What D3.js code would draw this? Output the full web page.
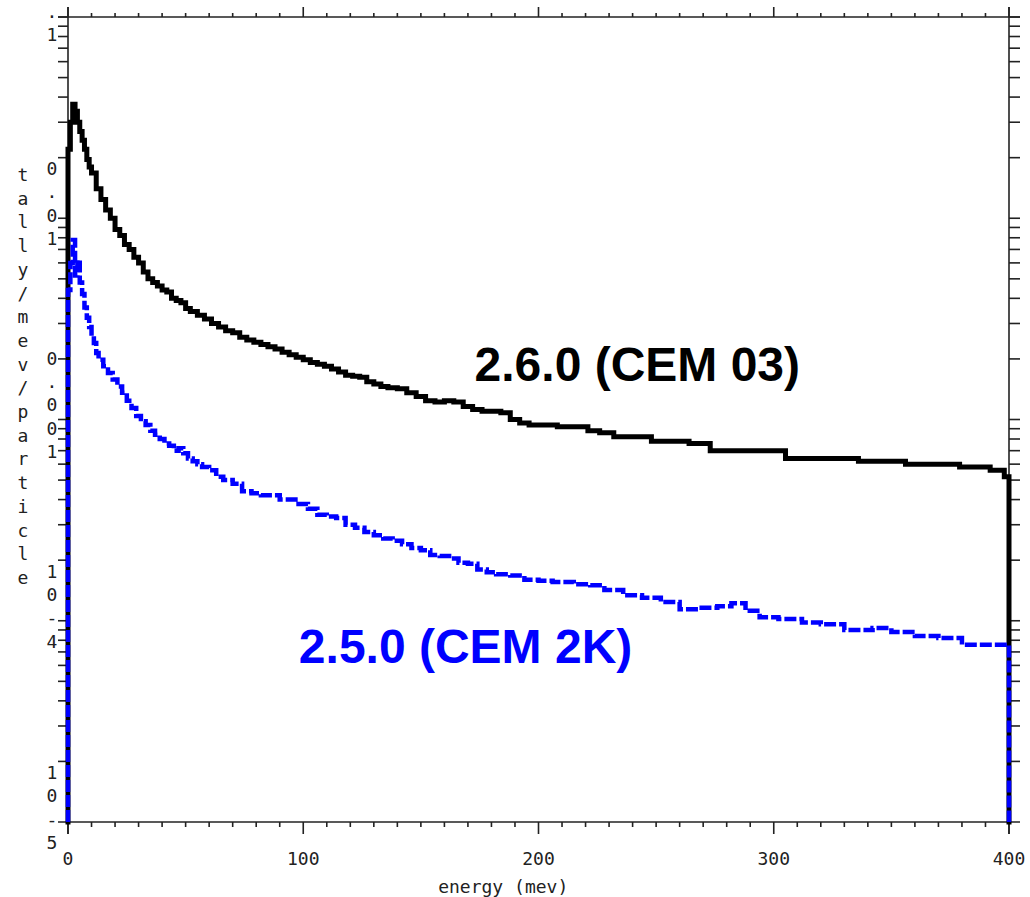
<!DOCTYPE html>
<html>
<head>
<meta charset="utf-8">
<script src="https://d3js.org/d3.v7.min.js"></script>
<style>
  body { margin: 0; background: #fff; }
  svg { display: block; }
  .mono { font-family: "DejaVu Sans Mono", "Liberation Mono", monospace; fill: #222; }
  .big { font-family: "Liberation Sans", Arial, sans-serif; font-weight: bold; }
</style>
</head>
<body>
<svg id="chart"></svg>
<script>
// ---------------- data ----------------
// MCNPX 2.6.0 (CEM 03): lower bin edges (MeV) and tally/MeV/particle
const energy260 = [0,1,2,3,4,5,6,7,8,9,
  10,12,14,16,18,20,22,24,26,28,
  30,32,34,36,38,40,42,44,46,48,
  50,52,55,58,61,64,67,70,73,76,
  79,82,85,88,91,94,97,100,103,106,
  109,112,115,118,121,124,127,130,133,136,
  140,144,148,152,156,160,164,168,172,176,
  180,184,188,192,196,208,221,226,232,248,
  264,273,305,336,356,379,392,398];
const tally260 = [0.0110,0.0150,0.0184,0.0170,0.0150,0.0135,0.0122,0.0110,0.0098,0.0090,
  0.0084,0.0070,0.0062,0.0055,0.0050,0.0044,0.0041,0.0037,0.0035,0.0032,
  0.0030,0.0027,0.0025,0.0024,0.0023,0.0022,0.00215,0.0020,0.00195,0.0019,
  0.00178,0.00172,0.00165,0.00158,0.00150,0.00144,0.00138,0.00135,0.00128,0.00124,
  0.00121,0.00118,0.00115,0.00112,0.00108,0.00105,0.00102,0.00099,0.00096,0.00094,
  0.00092,0.00089,0.00086,0.00083,0.00082,0.00081,0.00077,0.00075,0.00073,0.00072,
  0.00071,0.00068,0.00065,0.00062,0.00061,0.00062,0.00061,0.00058,0.00056,0.00055,
  0.00055,0.00054,0.00050,0.00048,0.00047,0.00046,0.00044,0.00043,0.00041,0.00039,
  0.00038,0.00035,0.00032,0.00031,0.00030,0.00029,0.00028,0.00026];

// MCNPX 2.5.0 (CEM 2K)
const energy250 = [0,1,2,3,4,5,6,7,8,9,
  10,11,12,13,15,17,19,21,23,25,
  27,29,31,33,35,37,39,41,43,45,
  47,49,51,53,55,57,60,63,66,70,
  74,78,82,86,90,94,98,102,106,110,
  114,118,122,126,130,134,138,142,146,150,
  154,158,162,166,170,174,178,182,188,194,
  200,206,215,222,228,236,244,252,260,268,
  276,282,288,294,302,312,320,330,342,350,
  360,370,380,390];
const tally250 = [0.0022,0.0030,0.0039,0.0026,0.0031,0.0024,0.0021,0.0018,0.0016,0.00144,
  0.00130,0.00120,0.00107,0.00099,0.00092,0.00085,0.00079,0.00073,0.00068,0.00062,
  0.00057,0.00052,0.00049,0.00047,0.00044,0.00042,0.00040,0.00038,0.00037,0.00035,
  0.00036,0.00034,0.00032,0.00031,0.00030,0.00029,0.00028,0.00026,0.00025,0.00024,
  0.00022,0.000215,0.00021,0.00021,0.00020,0.00020,0.00019,0.00018,0.000168,0.000165,
  0.000162,0.000150,0.000145,0.000138,0.000133,0.000128,0.000125,0.000120,0.000115,0.000112,
  0.000106,0.000105,0.000102,0.000097,0.000096,0.000090,0.000087,0.000085,0.000084,0.000080,
  0.000079,0.000078,0.000076,0.000075,0.000071,0.000067,0.000065,0.000062,0.000057,0.000058,
  0.000059,0.000061,0.000056,0.000052,0.000051,0.000049,0.000048,0.000045,0.000046,0.000044,
  0.000042,0.000041,0.000038,0.000038];

// axis ticks
const xMajor = [0, 100, 200, 300, 400];
const xMinorStep = 10;
const yDecades = [1e-1, 1e-2, 1e-3, 1e-4, 1e-5];
const yDecadeLabels = ["0.1", "0.01", "0.001", "10-4", "10-5"];
const yMinorMult = [1.5, 2, 2.5, 3, 3.5, 4, 4.5, 5];
const yTitle = "tally/mev/particle";
const xTitle = "energy (mev)";

// ---------------- layout ----------------
const W = 1030, H = 897;
const plot = { left: 68, right: 1009, top: 17, bottom: 822 };
const eMax = 400, yMin = 5e-6, yMax = 5e-2;

const svg = d3.select("#chart").attr("width", W).attr("height", H);
svg.append("rect").attr("width", W).attr("height", H).attr("fill", "#fff");

const x = d3.scaleLinear().domain([0, eMax]).range([plot.left, plot.right]);
const y = d3.scaleLog().domain([yMin, yMax]).range([plot.bottom, plot.top]);

const axisCol = "#222";

// frame lines (extend a little past the corners like the original plotter)
const frame = svg.append("g").attr("stroke", axisCol).attr("stroke-width", 1.6).attr("fill", "none");
frame.append("line").attr("x1", plot.left - 10).attr("x2", plot.right + 11).attr("y1", plot.top).attr("y2", plot.top);
frame.append("line").attr("x1", plot.left - 10).attr("x2", plot.right + 11).attr("y1", plot.bottom).attr("y2", plot.bottom);
frame.append("line").attr("x1", plot.left).attr("x2", plot.left).attr("y1", plot.top - 10).attr("y2", plot.bottom + 12);
frame.append("line").attr("x1", plot.right).attr("x2", plot.right).attr("y1", plot.top - 10).attr("y2", plot.bottom + 12);

// x ticks (top up, bottom down)
const xTickVals = d3.range(0, eMax + 0.1, xMinorStep);
xTickVals.forEach(v => {
  const major = xMajor.includes(v);
  frame.append("line").attr("x1", x(v)).attr("x2", x(v))
    .attr("y1", plot.top).attr("y2", plot.top - (major ? 10 : 4));
  frame.append("line").attr("x1", x(v)).attr("x2", x(v))
    .attr("y1", plot.bottom).attr("y2", plot.bottom + (major ? 12 : 5));
});

// y ticks (left and right, outward)
const yTickVals = [];
yDecades.forEach(d => yMinorMult.concat([1]).forEach(m => {
  const v = d * m;
  if (v >= yMin * 0.999 && v <= yMax * 1.001) yTickVals.push(v);
}));
yTickVals.forEach(v => {
  frame.append("line").attr("x1", plot.left - 10).attr("x2", plot.left).attr("y1", y(v)).attr("y2", y(v));
  frame.append("line").attr("x1", plot.right).attr("x2", plot.right + 11).attr("y1", y(v)).attr("y2", y(v));
});

// x tick labels
svg.append("g").selectAll("text").data(xMajor).join("text")
  .attr("class", "mono").attr("font-size", 18)
  .attr("x", d => x(d)).attr("y", plot.bottom + 43)
  .attr("text-anchor", "middle").text(d => d);

svg.append("text").attr("class", "mono").attr("font-size", 18)
  .attr("x", x(185)).attr("y", plot.bottom + 71)
  .attr("text-anchor", "middle").text(xTitle);

// y labels: stacked characters, centred a little below each decade tick
// (the top one is pushed down so it stays inside the page, as in the original)
const charStep = 23.3;
yDecades.forEach((d, i) => {
  const chars = yDecadeLabels[i].split("");
  let centre = y(d) + 46;
  if (i === 0) centre += 9;
  chars.forEach((c, j) => {
    const cy = centre + (j - (chars.length - 1) / 2) * charStep;
    if (cy < 0 || cy > H) return;
    svg.append("text").attr("class", "mono").attr("font-size", 18)
      .attr("x", 52).attr("y", cy).attr("dy", "0.36em")
      .attr("text-anchor", "middle").text(c);
  });
});

// y title, stacked vertically
const tChars = yTitle.split("");
const tStep = 23.7, tCentre = 376;
tChars.forEach((c, j) => {
  svg.append("text").attr("class", "mono").attr("font-size", 18)
    .attr("x", 23).attr("y", tCentre + (j - (tChars.length - 1) / 2) * tStep)
    .attr("dy", "0.36em").attr("text-anchor", "middle").text(c);
});

// ---------------- histograms ----------------
function histPoints(edges, vals) {
  const pts = [[0, yMin]];
  edges.forEach((e, i) => pts.push([e, vals[i]]));
  pts.push([eMax, vals[vals.length - 1]]);
  pts.push([eMax, yMin]);
  return pts;
}
const line = d3.line().x(d => x(d[0])).y(d => y(d[1])).curve(d3.curveStepAfter);

svg.append("path")
  .attr("d", line(histPoints(energy260, tally260)))
  .attr("fill", "none").attr("stroke", "#000").attr("stroke-width", 5)
  .attr("stroke-linejoin", "miter").attr("stroke-linecap", "square");

svg.append("path")
  .attr("d", line(histPoints(energy250, tally250)))
  .attr("fill", "none").attr("stroke", "#0000ff").attr("stroke-width", 4.5)
  .attr("stroke-dasharray", "12,3")
  .attr("stroke-linejoin", "miter");

// ---------------- annotations ----------------
svg.append("text").attr("class", "big").attr("font-size", 48).attr("fill", "#000")
  .attr("x", x(242)).attr("y", y(7.8e-4)).attr("text-anchor", "middle")
  .text("2.6.0 (CEM 03)");
svg.append("text").attr("class", "big").attr("font-size", 48).attr("fill", "#0000ff")
  .attr("x", x(169)).attr("y", y(3.1e-5)).attr("text-anchor", "middle")
  .text("2.5.0 (CEM 2K)");
</script>
</body>
</html>
